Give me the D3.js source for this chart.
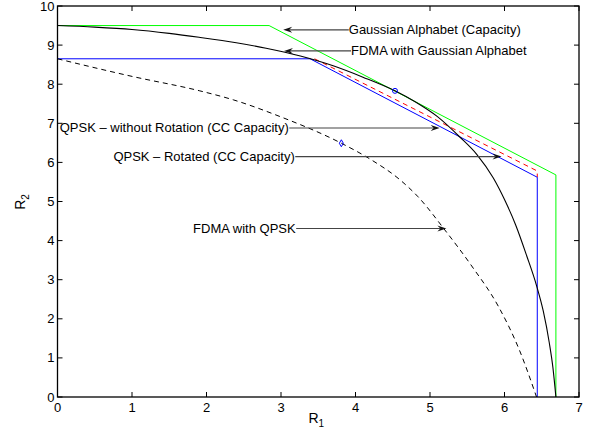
<!DOCTYPE html>
<html>
<head>
<meta charset="utf-8">
<script src="https://cdn.jsdelivr.net/npm/d3@7"></script>
<style>
  body { margin: 0; background: #fff; }
  text { font-family: "Liberation Sans", Arial, Helvetica, sans-serif; }
</style>
</head>
<body>
<div id="chart"></div>
<script>
// rate region corners
const gaussCapR1 = [0, 2.84, 6.69, 6.69];
const gaussCapR2 = [9.5, 9.5, 5.68, 0];

const qpskR1 = [0, 3.39, 6.44, 6.44];
const qpskR2 = [8.65, 8.65, 5.62, 0];

// rotated QPSK: only the sum-rate face shows, the rest sits under the blue line
const qpskRotR1 = [3.45, 6.44, 6.44];
const qpskRotR2 = [8.65, 5.78, 5.62];

// FDMA curves
const fdmaGaussR1 = [0, 0.5, 1.0, 1.5, 1.9, 2.4, 2.8, 3.26, 3.7, 4.1, 4.53, 4.8, 5.1, 5.4, 5.63, 5.85, 6.0, 6.15, 6.3, 6.43, 6.52, 6.6, 6.65, 6.69];
const fdmaGaussR2 = [9.5, 9.46, 9.4, 9.3, 9.2, 9.06, 8.92, 8.72, 8.47, 8.18, 7.83, 7.55, 7.17, 6.65, 6.2, 5.6, 5.05, 4.4, 3.6, 2.85, 2.2, 1.4, 0.75, 0];

const fdmaQpskR1 = [0, 1.0, 1.91, 2.36, 2.99, 3.81, 4.2, 4.6, 4.84, 5.2, 5.56, 5.92, 6.2, 6.43];
const fdmaQpskR2 = [8.65, 8.2, 7.83, 7.6, 7.17, 6.49, 6.08, 5.55, 5.12, 4.27, 3.35, 2.31, 1.2, 0];

// marked points
const circlePt = [4.53, 7.83];
const diamondPt = [3.81, 6.49];

const xTicks = [0, 1, 2, 3, 4, 5, 6, 7];
const yTicks = [0, 1, 2, 3, 4, 5, 6, 7, 8, 9, 10];

// annotations: label, text x, y, arrow tip x (data units)
const annLabels = ['Gaussian Alphabet (Capacity)', 'FDMA with Gaussian Alphabet', 'QPSK \u2013 without Rotation (CC Capacity)', 'QPSK \u2013 Rotated (CC Capacity)', 'FDMA with QPSK'];
const annTextX = [3.91, 3.94, 0.03, 0.75, 1.82];
const annY = [9.39, 8.85, 6.88, 6.15, 4.31];
const annTipX = [3.03, 3.04, 5.13, 5.96, 5.22];

const W = 590, H = 434;
const margin = { top: 6, right: 11, bottom: 37, left: 57.5 };

const svg = d3.select('#chart').append('svg')
  .attr('width', W)
  .attr('height', H);

const x = d3.scaleLinear().domain([0, 7]).range([margin.left, W - margin.right]);
const y = d3.scaleLinear().domain([0, 10]).range([H - margin.bottom, margin.top]);

const zip = (a, b) => a.map((v, i) => [v, b[i]]);

const line = d3.line().x(d => x(d[0])).y(d => y(d[1]));
const curve = d3.line().x(d => x(d[0])).y(d => y(d[1])).curve(d3.curveMonotoneX);

// red dashed under blue
svg.append('path')
  .attr('d', line(zip(qpskRotR1, qpskRotR2)))
  .attr('fill', 'none')
  .attr('stroke', '#ff0000')
  .attr('stroke-width', 1)
  .attr('stroke-dasharray', '5,4');

svg.append('path')
  .attr('d', line(zip(qpskR1, qpskR2)))
  .attr('fill', 'none')
  .attr('stroke', '#0000ff')
  .attr('stroke-width', 1);

svg.append('path')
  .attr('d', line(zip(gaussCapR1, gaussCapR2)))
  .attr('fill', 'none')
  .attr('stroke', '#00ff00')
  .attr('stroke-width', 1);

svg.append('path')
  .attr('d', curve(zip(fdmaGaussR1, fdmaGaussR2)))
  .attr('fill', 'none')
  .attr('stroke', '#000')
  .attr('stroke-width', 1.1);

svg.append('path')
  .attr('d', curve(zip(fdmaQpskR1, fdmaQpskR2)))
  .attr('fill', 'none')
  .attr('stroke', '#000')
  .attr('stroke-width', 1)
  .attr('stroke-dasharray', '5,4');

// markers
svg.append('circle')
  .attr('cx', x(circlePt[0]))
  .attr('cy', y(circlePt[1]))
  .attr('r', 2.5)
  .attr('fill', 'none')
  .attr('stroke', '#0000ff')
  .attr('stroke-width', 1);

svg.append('path')
  .attr('d', d3.symbol(d3.symbolDiamond, 14)())
  .attr('transform', `translate(${x(diamondPt[0])},${y(diamondPt[1])})`)
  .attr('fill', 'none')
  .attr('stroke', '#0000ff')
  .attr('stroke-width', 1);

// axes box with inward ticks
const tickLen = 5;
const axisG = svg.append('g').attr('font-size', 13);

axisG.append('rect')
  .attr('x', x(0)).attr('y', y(10))
  .attr('width', x(7) - x(0)).attr('height', y(0) - y(10))
  .attr('fill', 'none').attr('stroke', '#000').attr('stroke-width', 1.3);

xTicks.forEach(t => {
  axisG.append('line').attr('x1', x(t)).attr('x2', x(t)).attr('y1', y(0)).attr('y2', y(0) - tickLen).attr('stroke', '#000');
  axisG.append('line').attr('x1', x(t)).attr('x2', x(t)).attr('y1', y(10)).attr('y2', y(10) + tickLen).attr('stroke', '#000');
  axisG.append('text').attr('x', x(t)).attr('y', y(0) + 15).attr('text-anchor', 'middle').text(t);
});

yTicks.forEach(t => {
  axisG.append('line').attr('x1', x(0)).attr('x2', x(0) + tickLen).attr('y1', y(t)).attr('y2', y(t)).attr('stroke', '#000');
  axisG.append('line').attr('x1', x(7)).attr('x2', x(7) - tickLen).attr('y1', y(t)).attr('y2', y(t)).attr('stroke', '#000');
  axisG.append('text').attr('x', x(0) - 3).attr('y', y(t) + 4.5).attr('text-anchor', 'end').text(t);
});

// axis labels
const xl = svg.append('text')
  .attr('x', (x(0) + x(7)) / 2 - 2)
  .attr('y', 423)
  .attr('text-anchor', 'middle')
  .attr('font-size', 14);
xl.append('tspan').text('R');
xl.append('tspan').attr('font-size', 10).attr('dy', 4).text('1');

const yl = svg.append('text')
  .attr('transform', 'translate(25,202) rotate(-90)')
  .attr('text-anchor', 'middle')
  .attr('font-size', 14);
yl.append('tspan').text('R');
yl.append('tspan').attr('font-size', 10).attr('dy', 4).text('2');

// annotations with arrows
function arrowHead(tx, ty, dir) {
  // dir = -1 points left, +1 points right
  const L = 9, Wd = 3, N = 6;
  const p = [[tx, ty], [tx - dir * L, ty - Wd], [tx - dir * N, ty], [tx - dir * L, ty + Wd]];
  svg.append('path')
    .attr('d', 'M' + p.map(q => q.join(',')).join('L') + 'Z')
    .attr('fill', '#111');
}

annLabels.forEach((lab, i) => {
  const ty = y(annY[i]);
  const txt = svg.append('text')
    .attr('x', x(annTextX[i]))
    .attr('y', ty + 4.5)
    .attr('font-size', 13)
    .attr('fill', '#000')
    .text(lab);
  const tipX = x(annTipX[i]);
  let startX;
  let dir;
  if (tipX < x(annTextX[i])) {
    startX = x(annTextX[i]);
    dir = -1;
  } else {
    startX = x(annTextX[i]) + txt.node().getComputedTextLength() + 0.5;
    dir = 1;
  }
  svg.append('line')
    .attr('x1', startX).attr('x2', tipX - dir * 6)
    .attr('y1', ty).attr('y2', ty)
    .attr('stroke', '#444')
    .attr('stroke-width', 1.2);
  arrowHead(tipX, ty, dir);
});
</script>
</body>
</html>
